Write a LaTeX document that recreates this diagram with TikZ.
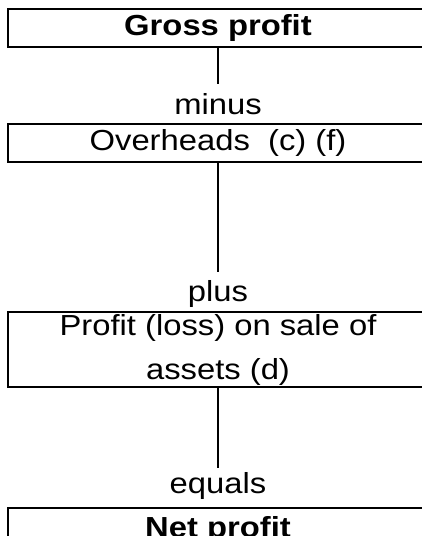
\documentclass[tikz,border=0pt]{standalone}
\usepackage{fontspec}
\setmainfont{Liberation Sans}[FakeStretch=1.13]
\usepackage{tikz}
\usetikzlibrary{positioning}

\begin{document}
\begin{tikzpicture}[x=1pt, y=-1pt,
  every node/.style={font=\fontsize{29pt}{44pt}\selectfont},
  box/.style={draw, line width=1.6pt, minimum width=420pt, align=center, inner sep=0pt},
  word/.style={inner sep=0pt, text height=21pt, text depth=6pt},
  link/.style={line width=1.6pt}]
  \useasboundingbox (0,0) rectangle (421,536);

  \node (gross) [box, minimum height=38pt] at (218,28) {\textbf{Gross profit}};
  \node (minus) [word, below=45pt of gross] {minus};
  \node (over) [box, minimum height=38pt, below=3pt of minus] {Overheads\ \ (c) (f)};
  \node (plus) [word, below=117pt of over] {plus};
  \node (sale) [box, minimum height=75pt, below=4pt of plus] {Profit (loss) on sale of\\assets (d)};
  \node (equals) [word, below=84pt of sale] {equals};
  \node (net) [box, minimum height=44pt, below=8pt of equals] {\textbf{Net profit}};

  \draw[link, shorten >=9pt] (gross) -- (minus);
  \draw[link, shorten >=8pt] (over) -- (plus);
  \draw[link, shorten >=4pt] (sale) -- (equals);
\end{tikzpicture}
\end{document}
